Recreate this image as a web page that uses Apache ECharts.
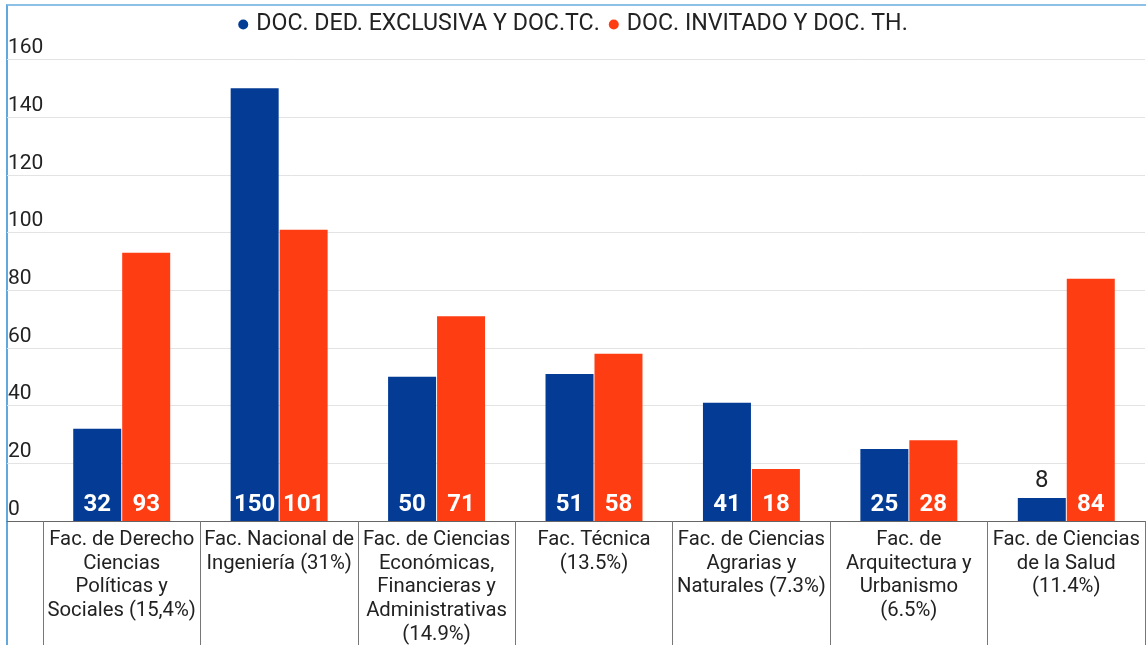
<!DOCTYPE html>
<html>
<head>
<meta charset="utf-8">
<script src="https://cdn.jsdelivr.net/npm/echarts@6/dist/echarts.min.js"></script>
<style>
  html, body { margin: 0; padding: 0; background: #fff; }
  #frame { position: absolute; left: 6px; top: 4px; width: 1140px; height: 641px; border-left: 2px solid #62a8dc; border-top: 2px solid #8cc0e6; }
  #chart { position: absolute; left: 0; top: 0; width: 1146px; height: 645px; }
</style>
</head>
<body>
<div id="frame"></div>
<div id="chart"></div>
<script>
const categories = [
  'Fac. de Derecho\nCiencias\nPolíticas y\nSociales (15,4%)',
  'Fac. Nacional de\nIngeniería (31%)',
  'Fac. de Ciencias\nEconómicas,\nFinancieras y\nAdministrativas\n(14.9%)',
  'Fac. Técnica\n(13.5%)',
  'Fac. de Ciencias\nAgrarias y\nNaturales (7.3%)',
  'Fac. de\nArquitectura y\nUrbanismo\n(6.5%)',
  'Fac. de Ciencias\nde la Salud\n(11.4%)'
];
const seriesNames = ['DOC. DED. EXCLUSIVA Y DOC.TC.', 'DOC. INVITADO Y DOC. TH.'];
const dedExclusiva = [32, 150, 50, 51, 41, 25, 8];
const invitado = [93, 101, 71, 58, 18, 28, 84];
const yTicks = { min: 0, max: 160, interval: 20 };

const colors = ['#033b95', '#fe3d13'];

function barData(values) {
  return values.map(v => v < 12
    ? { value: v, label: { position: 'top', distance: 5, color: '#222', fontWeight: 'normal' } }
    : v);
}

const chart = echarts.init(document.getElementById('chart'), null, { renderer: 'canvas' });
const gridTop = 59.5, gridBottom = 124;
chart.setOption({
  animation: false,
  backgroundColor: 'transparent',
  textStyle: { fontFamily: 'Roboto' },
  legend: {
    top: 8,
    left: 'center',
    icon: 'circle',
    itemWidth: 10,
    itemHeight: 10,
    itemGap: 9,
    textStyle: { fontSize: 23.2, color: '#222', fontFamily: 'Roboto', padding: [0, 0, 0, 3] },
    data: seriesNames
  },
  grid: [
    { left: 7, right: 1, top: gridTop, bottom: gridBottom, containLabel: false, outerBoundsMode: 'none' },
    { left: 43, right: 1, top: gridTop, bottom: gridBottom, containLabel: false, outerBoundsMode: 'none' }
  ],
  xAxis: [
    { gridIndex: 0, type: 'category', data: [''],
      axisLine: { show: true, lineStyle: { color: '#666', width: 1 } },
      axisTick: { show: false }, axisLabel: { show: false } },
    { gridIndex: 1, type: 'category', data: categories,
      axisLine: { show: true, lineStyle: { color: '#666', width: 1 } },
      axisTick: { show: true, interval: 0, length: gridBottom, lineStyle: { color: '#777', width: 1 } },
      axisLabel: { interval: 0, fontSize: 20.3, color: '#222', lineHeight: 23.7,
        margin: 7, fontFamily: 'Roboto', hideOverlap: false } }
  ],
  yAxis: [
    { gridIndex: 0, type: 'value', min: yTicks.min, max: yTicks.max, interval: yTicks.interval,
      axisLine: { show: false }, axisTick: { show: false },
      splitLine: { show: true, lineStyle: { color: '#e3e3e3', width: 1 } },
      axisLabel: { inside: true, align: 'left', verticalAlign: 'bottom', margin: 1,
        fontSize: 21, color: '#222', fontFamily: 'Roboto', padding: [0, 0, 1, 0] } },
    { gridIndex: 1, type: 'value', min: yTicks.min, max: yTicks.max, interval: yTicks.interval,
      show: false }
  ],
  series: [
    { name: seriesNames[0], type: 'bar', xAxisIndex: 1, yAxisIndex: 1,
      data: barData(dedExclusiva), barWidth: 48, barGap: '2%',
      itemStyle: { color: colors[0] },
      label: { show: true, position: 'insideBottom', distance: 4, color: '#fff',
        fontSize: 24, fontWeight: 'bold', fontFamily: 'Roboto' } },
    { name: seriesNames[1], type: 'bar', xAxisIndex: 1, yAxisIndex: 1,
      data: barData(invitado), barWidth: 48, barGap: '2%',
      itemStyle: { color: colors[1] },
      label: { show: true, position: 'insideBottom', distance: 4, color: '#fff',
        fontSize: 24, fontWeight: 'bold', fontFamily: 'Roboto' } }
  ]
});
</script>
</body>
</html>
